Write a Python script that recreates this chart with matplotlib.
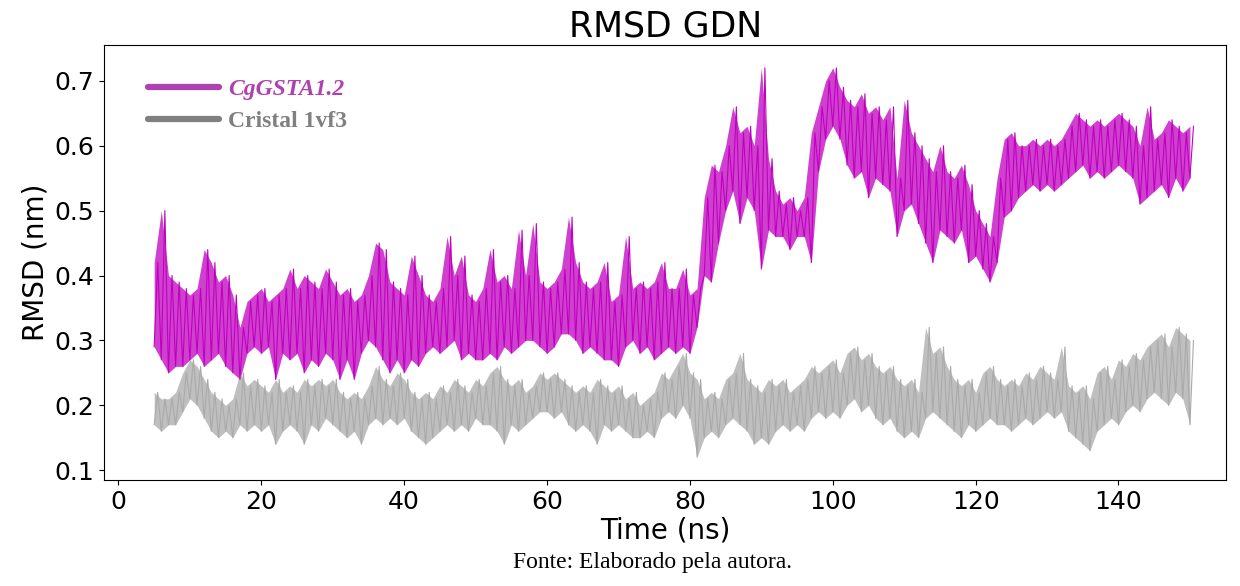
import matplotlib
matplotlib.use('Agg')
import matplotlib.pyplot as plt
from matplotlib.lines import Line2D
import numpy as np

# time axis, 1 ns bins from 5 to 150 ns
time = np.arange(5, 151)

# CgGSTA1.2 : upper / lower excursion inside each 1 ns bin (nm)
cg_hi = [0.42, 0.50, 0.40, 0.39, 0.38, 0.37, 0.38, 0.44, 0.42, 0.39,
         0.40, 0.37, 0.32, 0.36, 0.37, 0.38, 0.36, 0.37, 0.38, 0.41,
         0.38, 0.40, 0.39, 0.38, 0.41, 0.39, 0.37, 0.38, 0.36, 0.37,
         0.40, 0.45, 0.44, 0.39, 0.38, 0.37, 0.43, 0.40, 0.37, 0.36,
         0.38, 0.46, 0.40, 0.43, 0.37, 0.36, 0.38, 0.44, 0.39, 0.40,
         0.38, 0.47, 0.40, 0.48, 0.39, 0.38, 0.39, 0.41, 0.49, 0.42,
         0.39, 0.38, 0.39, 0.42, 0.36, 0.37, 0.46, 0.38, 0.39, 0.38,
         0.39, 0.42, 0.38, 0.38, 0.41, 0.37, 0.38, 0.52, 0.57, 0.56,
         0.60, 0.66, 0.62, 0.63, 0.60, 0.72, 0.58, 0.53, 0.51, 0.52,
         0.50, 0.52, 0.62, 0.66, 0.70, 0.72, 0.69, 0.67, 0.66, 0.68,
         0.65, 0.66, 0.64, 0.66, 0.55, 0.67, 0.62, 0.60, 0.58, 0.56,
         0.60, 0.56, 0.55, 0.57, 0.54, 0.50, 0.48, 0.46, 0.55, 0.61,
         0.62, 0.60, 0.60, 0.61, 0.60, 0.61, 0.60, 0.61, 0.63, 0.65,
         0.64, 0.63, 0.64, 0.63, 0.64, 0.65, 0.64, 0.63, 0.60, 0.66,
         0.61, 0.62, 0.64, 0.63, 0.62, 0.63]
cg_lo = [0.29, 0.27, 0.25, 0.26, 0.26, 0.27, 0.28, 0.26, 0.27, 0.28,
         0.26, 0.25, 0.24, 0.28, 0.29, 0.28, 0.29, 0.24, 0.28, 0.27,
         0.28, 0.25, 0.27, 0.26, 0.28, 0.27, 0.24, 0.27, 0.24, 0.28,
         0.30, 0.29, 0.27, 0.25, 0.27, 0.25, 0.27, 0.26, 0.28, 0.29,
         0.28, 0.29, 0.30, 0.27, 0.28, 0.27, 0.27, 0.28, 0.27, 0.29,
         0.28, 0.29, 0.30, 0.30, 0.29, 0.28, 0.29, 0.31, 0.31, 0.30,
         0.28, 0.29, 0.28, 0.27, 0.27, 0.26, 0.29, 0.30, 0.28, 0.29,
         0.27, 0.28, 0.29, 0.28, 0.29, 0.28, 0.32, 0.40, 0.39, 0.45,
         0.50, 0.53, 0.48, 0.52, 0.50, 0.41, 0.47, 0.46, 0.46, 0.44,
         0.46, 0.46, 0.42, 0.56, 0.61, 0.63, 0.61, 0.57, 0.55, 0.56,
         0.52, 0.55, 0.54, 0.53, 0.46, 0.50, 0.51, 0.48, 0.45, 0.42,
         0.47, 0.46, 0.45, 0.47, 0.42, 0.43, 0.41, 0.39, 0.42, 0.49,
         0.50, 0.52, 0.53, 0.54, 0.53, 0.54, 0.53, 0.54, 0.55, 0.56,
         0.57, 0.55, 0.56, 0.55, 0.56, 0.57, 0.56, 0.55, 0.51, 0.52,
         0.53, 0.54, 0.52, 0.55, 0.53, 0.55]

# Cristal 1vf3
cr_hi = [0.22, 0.21, 0.21, 0.22, 0.25, 0.27, 0.26, 0.24, 0.22, 0.21,
         0.20, 0.21, 0.25, 0.23, 0.24, 0.23, 0.22, 0.24, 0.22, 0.23,
         0.22, 0.24, 0.23, 0.24, 0.23, 0.24, 0.22, 0.21, 0.22, 0.21,
         0.23, 0.26, 0.24, 0.23, 0.25, 0.24, 0.22, 0.21, 0.22, 0.21,
         0.23, 0.22, 0.24, 0.23, 0.22, 0.24, 0.23, 0.25, 0.26, 0.24,
         0.23, 0.24, 0.22, 0.23, 0.25, 0.24, 0.25, 0.24, 0.23, 0.22,
         0.23, 0.22, 0.24, 0.23, 0.22, 0.23, 0.21, 0.22, 0.20, 0.21,
         0.22, 0.25, 0.24, 0.26, 0.28, 0.25, 0.24, 0.21, 0.22, 0.21,
         0.24, 0.25, 0.28, 0.24, 0.23, 0.22, 0.24, 0.23, 0.24, 0.22,
         0.23, 0.24, 0.26, 0.25, 0.26, 0.27, 0.25, 0.28, 0.29, 0.27,
         0.28, 0.26, 0.25, 0.26, 0.24, 0.23, 0.24, 0.22, 0.32, 0.28,
         0.29, 0.26, 0.24, 0.23, 0.24, 0.22, 0.25, 0.26, 0.24, 0.23,
         0.24, 0.23, 0.25, 0.24, 0.26, 0.25, 0.24, 0.29, 0.23, 0.22,
         0.23, 0.21, 0.25, 0.26, 0.24, 0.27, 0.26, 0.28, 0.27, 0.29,
         0.30, 0.31, 0.29, 0.32, 0.31, 0.30]
cr_lo = [0.17, 0.16, 0.17, 0.17, 0.19, 0.21, 0.20, 0.18, 0.16, 0.15,
         0.16, 0.15, 0.17, 0.16, 0.17, 0.16, 0.17, 0.14, 0.16, 0.17,
         0.16, 0.14, 0.17, 0.16, 0.18, 0.17, 0.16, 0.15, 0.16, 0.14,
         0.17, 0.18, 0.17, 0.18, 0.17, 0.18, 0.16, 0.15, 0.14, 0.15,
         0.16, 0.17, 0.16, 0.17, 0.16, 0.18, 0.17, 0.17, 0.16, 0.14,
         0.17, 0.16, 0.17, 0.18, 0.19, 0.19, 0.18, 0.19, 0.17, 0.16,
         0.17, 0.16, 0.14, 0.17, 0.16, 0.17, 0.16, 0.15, 0.15, 0.16,
         0.15, 0.18, 0.19, 0.18, 0.20, 0.18, 0.12, 0.15, 0.16, 0.15,
         0.17, 0.18, 0.17, 0.16, 0.14, 0.15, 0.14, 0.16, 0.17, 0.16,
         0.17, 0.16, 0.18, 0.19, 0.18, 0.19, 0.18, 0.20, 0.21, 0.19,
         0.20, 0.18, 0.17, 0.18, 0.16, 0.15, 0.16, 0.15, 0.18, 0.19,
         0.18, 0.17, 0.16, 0.15, 0.17, 0.16, 0.17, 0.18, 0.17, 0.17,
         0.16, 0.17, 0.18, 0.17, 0.18, 0.19, 0.18, 0.19, 0.16, 0.15,
         0.14, 0.13, 0.16, 0.17, 0.18, 0.17, 0.19, 0.20, 0.19, 0.21,
         0.22, 0.21, 0.20, 0.22, 0.21, 0.17]

labels = ['CgGSTA1.2', 'Cristal 1vf3']
colors = ['#c000c0', '#aaaaaa']


def trace(lo, hi):
    # alternate low / high sample inside each bin
    t = np.column_stack([time, time + 0.5]).ravel()
    v = np.column_stack([lo, hi]).ravel()
    return t, v


fig = plt.figure(figsize=(12.4, 5.86), dpi=100)
ax = fig.add_axes([0.084, 0.181, 0.905, 0.742])

for lo, hi, c in [(cg_lo, cg_hi, colors[0]), (cr_lo, cr_hi, colors[1])]:
    ax.fill_between(time, lo, hi, color=c, alpha=0.75, lw=0)
    t, v = trace(lo, hi)
    ax.plot(t, v, color=c, lw=0.8)

ax.set_xlim(-2, 155.1)
ax.set_ylim(0.085, 0.755)
ax.set_xticks(np.arange(0, 141, 20))
ax.set_yticks([0.1, 0.2, 0.3, 0.4, 0.5, 0.6, 0.7])
ax.tick_params(labelsize=18)
ax.set_title('RMSD GDN', fontsize=25, pad=6)
ax.set_xlabel('Time (ns)', fontsize=20, labelpad=2)
ax.set_ylabel('RMSD (nm)', fontsize=20)

handles = [Line2D([], [], color='#b040b0', lw=4.5, solid_capstyle='round'),
           Line2D([], [], color='#808080', lw=4.5, solid_capstyle='round')]
leg = ax.legend(handles, labels, loc='upper left', bbox_to_anchor=(0.02, 0.972),
                frameon=False, handlelength=3.0, handletextpad=0.4,
                labelspacing=0.45,
                prop={'family': 'Liberation Serif', 'weight': 'bold', 'size': 17})
leg.get_texts()[0].set_color('#b040b0')
leg.get_texts()[0].set_style('italic')
leg.get_texts()[1].set_color('#808080')

fig.text(0.526, 0.03, 'Fonte: Elaborado pela autora.', ha='center',
         family='Liberation Serif', fontsize=17)

fig.savefig('out.png')
